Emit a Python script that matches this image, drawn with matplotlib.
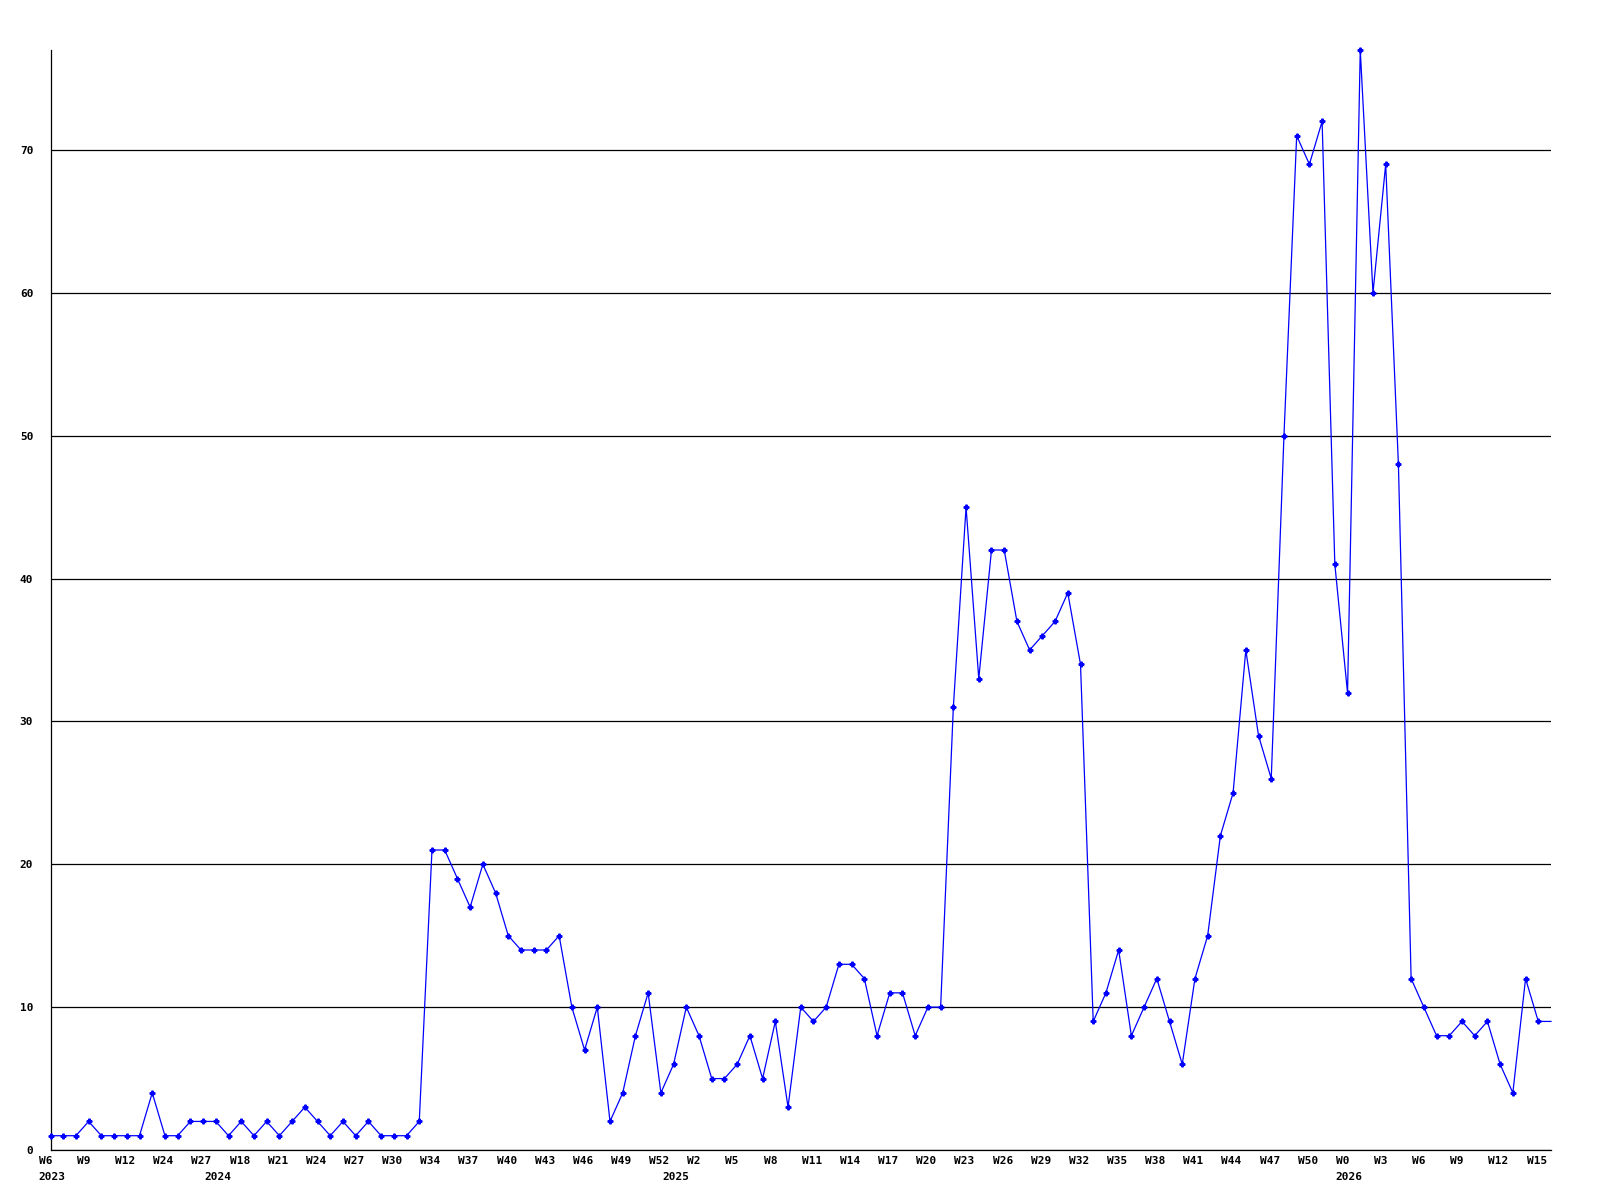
import matplotlib
matplotlib.use('Agg')
import matplotlib.pyplot as plt
from matplotlib.transforms import ScaledTranslation

# Weekly counts (one value per week)
counts = [1, 1, 1, 2, 1, 1, 1, 1, 4, 1,
          1, 2, 2, 2, 1, 2, 1, 2, 1, 2,
          3, 2, 1, 2, 1, 2, 1, 1, 1, 2,
          21, 21, 19, 17, 20, 18, 15, 14, 14, 14,
          15, 10, 7, 10, 2, 4, 8, 11, 4, 6,
          10, 8, 5, 5, 6, 8, 5, 9, 3, 10,
          9, 10, 13, 13, 12, 8, 11, 11, 8, 10,
          10, 31, 45, 33, 42, 42, 37, 35, 36, 37,
          39, 34, 9, 11, 14, 8, 10, 12, 9, 6,
          12, 15, 22, 25, 35, 29, 26, 50, 71, 69,
          72, 41, 32, 77, 60, 69, 48, 12, 10, 8,
          8, 9, 8, 9, 6, 4, 12, 9, 9]

# Labels shown on every third week
week_labels = ['W6', 'W9', 'W12', 'W24', 'W27', 'W18', 'W21', 'W24', 'W27', 'W30',
               'W34', 'W37', 'W40', 'W43', 'W46', 'W49', 'W52', 'W2', 'W5', 'W8',
               'W11', 'W14', 'W17', 'W20', 'W23', 'W26', 'W29', 'W32', 'W35', 'W38',
               'W41', 'W44', 'W47', 'W50', 'W0', 'W3', 'W6', 'W9', 'W12', 'W15']
label_step = 3

# Year markers: which week index each year starts at
years = ['2023', '2024', '2025', '2026']
year_start = [0, 13, 49, 102]

y_ticks = [0, 10, 20, 30, 40, 50, 60, 70]
y_max = 77

FONT = dict(family='DejaVu Sans Mono', weight='bold', size=8)

fig = plt.figure(figsize=(16, 12), dpi=100)
ax = fig.add_axes([50.5 / 1600, 50 / 1200, 1500.5 / 1600, 1100 / 1200])

x = list(range(len(counts)))
ax.plot(x, counts, color='#0000ff', lw=0.9, marker='P', markersize=3.4,
        markevery=slice(0, len(counts) - 1), clip_on=False, zorder=3)

ax.set_xlim(0, len(counts) - 1)
ax.set_ylim(0, y_max)

# Axes look: only left and bottom lines, horizontal grid
for side in ['top', 'right']:
    ax.spines[side].set_visible(False)
for side in ['left', 'bottom']:
    ax.spines[side].set_linewidth(0.9)
ax.yaxis.grid(True, color='black', lw=0.9)
ax.set_axisbelow(True)

ax.set_yticks(y_ticks)
ax.set_yticklabels([str(v) for v in y_ticks], **FONT)

# year labels sit under some week labels, keep both
ax.xaxis.remove_overlapping_locs = False
ax.set_xticks(range(0, len(week_labels) * label_step, label_step))
ax.set_xticklabels(week_labels, **FONT)
ax.set_xticks(year_start, minor=True)
ax.set_xticklabels(years, minor=True, **FONT)

ax.tick_params(axis='both', which='both', length=0)
ax.tick_params(axis='y', pad=12.4)
ax.tick_params(axis='x', which='major', pad=4)
ax.tick_params(axis='x', which='minor', pad=15.5)

# x labels start slightly left of their week
shift = ScaledTranslation(-11.7 / 100, 0, fig.dpi_scale_trans)
for lab in ax.get_xticklabels(which='both'):
    lab.set_horizontalalignment('left')
    lab.set_transform(lab.get_transform() + shift)

fig.savefig('out.png', dpi=100)
